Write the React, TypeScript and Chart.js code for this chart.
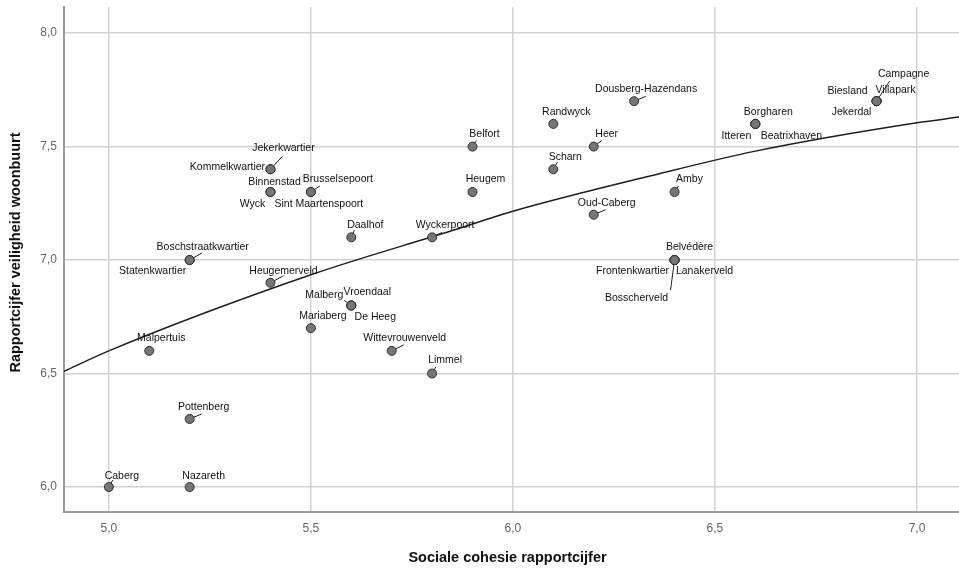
import { useEffect, useRef } from "react";
import { Chart, registerables } from "chart.js";

Chart.register(...registerables);

const neighbourhoods = [
  "Caberg", "Nazareth", "Pottenberg", "Malpertuis", "Boschstraatkwartier", "Statenkwartier",
  "Heugemerveld", "Jekerkwartier", "Kommelkwartier", "Binnenstad", "Wyck", "Brusselsepoort",
  "Sint Maartenspoort", "Daalhof", "Mariaberg", "Malberg", "Vroendaal", "De Heeg",
  "Wittevrouwenveld", "Limmel", "Wyckerpoort", "Belfort", "Heugem", "Randwyck", "Scharn",
  "Heer", "Dousberg-Hazendans", "Oud-Caberg", "Amby", "Belvédère", "Frontenkwartier",
  "Lanakerveld", "Bosscherveld", "Borgharen", "Itteren", "Beatrixhaven", "Campagne",
  "Biesland", "Villapark", "Jekerdal",
];
const cohesion = [
  5.0, 5.2, 5.2, 5.1, 5.2, 5.2,
  5.4, 5.4, 5.4, 5.4, 5.4, 5.5,
  5.5, 5.6, 5.5, 5.6, 5.6, 5.6,
  5.7, 5.8, 5.8, 5.9, 5.9, 6.1, 6.1,
  6.2, 6.3, 6.2, 6.4, 6.4, 6.4,
  6.4, 6.4, 6.6, 6.6, 6.6, 6.9,
  6.9, 6.9, 6.9,
];
const safety = [
  6.0, 6.0, 6.3, 6.6, 7.0, 7.0,
  6.9, 7.4, 7.4, 7.3, 7.3, 7.3,
  7.3, 7.1, 6.7, 6.8, 6.8, 6.8,
  6.6, 6.5, 7.1, 7.5, 7.3, 7.6, 7.4,
  7.5, 7.7, 7.2, 7.3, 7.0, 7.0,
  7.0, 7.0, 7.6, 7.6, 7.6, 7.7,
  7.7, 7.7, 7.7,
];

// fit line
const fitX = [4.889, 5.0, 5.5, 5.85, 6.0, 6.35, 6.6, 7.0, 7.104];
const fitY = [6.51, 6.6, 6.935, 7.13, 7.215, 7.375, 7.48, 7.605, 7.63];

const xTicks = [5.0, 5.5, 6.0, 6.5, 7.0];
const yTicks = [6.0, 6.5, 7.0, 7.5, 8.0];
const xTitle = "Sociale cohesie rapportcijfer";
const yTitle = "Rapportcijfer veiligheid woonbuurt";

// label placement (pixels): [label dx, label dy, leader end dx, leader end dy]
const labelPlacement: Record<string, number[]> = {
  "Caberg": [13, -11, 4, -7],
  "Nazareth": [14, -11],
  "Pottenberg": [14, -12, 12, -5],
  "Malpertuis": [12, -13],
  "Boschstraatkwartier": [13, -13, 12, -7],
  "Statenkwartier": [-37, 11],
  "Heugemerveld": [13, -12, 13, -7],
  "Jekerkwartier": [13, -21, 12, -13],
  "Kommelkwartier": [-43, -2],
  "Binnenstad": [4, -10],
  "Wyck": [-18, 12],
  "Brusselsepoort": [27, -13, 9, -6],
  "Sint Maartenspoort": [8, 12],
  "Daalhof": [14, -12, 3, -7],
  "Mariaberg": [12, -12],
  "Malberg": [-27, -10, -7, -5],
  "Vroendaal": [16, -13],
  "De Heeg": [24, 12],
  "Wittevrouwenveld": [13, -13, 12, -6],
  "Limmel": [13, -13, 4, -7],
  "Wyckerpoort": [13, -12, 10, -5],
  "Belfort": [12, -12, 4, -6],
  "Heugem": [13, -13],
  "Randwyck": [13, -12],
  "Scharn": [12, -12, 4, -7],
  "Heer": [13, -12, 8, -6],
  "Dousberg-Hazendans": [12, -12, 12, -5],
  "Oud-Caberg": [13, -12, 12, -5],
  "Amby": [15, -13, 4, -6],
  "Belvédère": [15, -13],
  "Frontenkwartier": [-42, 11],
  "Lanakerveld": [30, 11],
  "Bosscherveld": [-38, 38, -4, 30],
  "Borgharen": [13, -12],
  "Itteren": [-19, 12],
  "Beatrixhaven": [36, 12],
  "Campagne": [27, -27, 13, -20],
  "Biesland": [-29, -10],
  "Villapark": [19, -11],
  "Jekerdal": [-25, 11],
};

const fmt = (v: number) => v.toFixed(1).replace(".", ",");

const labelPlugin = {
  id: "pointLabels",
  beforeDatasetsDraw(chart: any) {
    const ctx = chart.ctx;
    const meta = chart.getDatasetMeta(0);
    ctx.save();
    ctx.strokeStyle = "#222";
    ctx.lineWidth = 1;
    meta.data.forEach((el: any, i: number) => {
      const p = labelPlacement[neighbourhoods[i]];
      if (p && p.length === 4) {
        ctx.beginPath();
        ctx.moveTo(el.x, el.y);
        ctx.lineTo(el.x + p[2], el.y + p[3]);
        ctx.stroke();
      }
    });
    ctx.restore();
  },
  afterDatasetsDraw(chart: any) {
    const ctx = chart.ctx;
    const meta = chart.getDatasetMeta(0);
    ctx.save();
    ctx.font = "10.5px 'Liberation Sans', Arial, sans-serif";
    ctx.fillStyle = "#111";
    ctx.textAlign = "center";
    ctx.textBaseline = "middle";
    meta.data.forEach((el: any, i: number) => {
      const p = labelPlacement[neighbourhoods[i]] || [0, -12];
      ctx.fillText(neighbourhoods[i], el.x + p[0], el.y + p[1]);
    });
    ctx.restore();
  },
  afterDraw(chart: any) {
    const ctx = chart.ctx;
    const a = chart.chartArea;
    ctx.save();
    ctx.fillStyle = "#111";
    ctx.font = "bold 14.5px 'Liberation Sans', Arial, sans-serif";
    ctx.textAlign = "center";
    ctx.textBaseline = "middle";
    ctx.fillText(xTitle, (a.left + a.right) / 2 - 4, 558);
    ctx.translate(16, (a.top + a.bottom) / 2 - 7);
    ctx.rotate(-Math.PI / 2);
    ctx.fillText(yTitle, 0, 0);
    ctx.restore();
  },
};

export default function App() {
  const ref = useRef<HTMLCanvasElement | null>(null);
  useEffect(() => {
    if (!ref.current) return;
    const chart = new Chart(ref.current, {
      type: "scatter",
      data: {
        datasets: [
          {
            data: cohesion.map((x, i) => ({ x, y: safety[i] })),
            pointRadius: 4.5,
            pointBackgroundColor: "#767676",
            pointBorderColor: "#2e2e2e",
            pointBorderWidth: 1,
            showLine: false,
          },
          {
            data: fitX.map((x, i) => ({ x, y: fitY[i] })),
            showLine: true,
            pointRadius: 0,
            borderColor: "#1e1e1e",
            borderWidth: 1.5,
            cubicInterpolationMode: "monotone",
            fill: false,
          } as any,
        ],
      },
      options: {
        responsive: false,
        animation: false,
        devicePixelRatio: 1,
        layout: { autoPadding: false, padding: { top: 7, right: 0, left: 0, bottom: 0 } },
        plugins: { legend: { display: false }, tooltip: { enabled: false } },
        scales: {
          x: {
            type: "linear",
            min: 4.889,
            max: 7.104,
            afterBuildTicks: (s: any) => {
              s.ticks = xTicks.map((v) => ({ value: v }));
            },
            afterFit: (s: any) => {
              s.height = 56;
              s.paddingLeft = 0;
              s.paddingRight = 0;
              s.paddingTop = 0;
              s.paddingBottom = 0;
            },
            grid: { color: "#d2d2d2", lineWidth: 1.5, drawTicks: false },
            border: { color: "#9a9a9a", width: 2 },
            ticks: {
              padding: 9,
              color: "#666",
              font: { family: "'Liberation Sans', Arial, sans-serif", size: 12 },
              callback: (v: any) => fmt(Number(v)),
              maxRotation: 0,
            },
          },
          y: {
            type: "linear",
            min: 5.89,
            max: 8.115,
            afterBuildTicks: (s: any) => {
              s.ticks = yTicks.map((v) => ({ value: v }));
            },
            afterFit: (s: any) => {
              s.width = 64;
              s.paddingLeft = 0;
              s.paddingRight = 0;
              s.paddingTop = 0;
              s.paddingBottom = 0;
            },
            grid: { color: "#d2d2d2", lineWidth: 1.5, drawTicks: false },
            border: { color: "#9a9a9a", width: 2 },
            ticks: {
              padding: 7,
              color: "#666",
              font: { family: "'Liberation Sans', Arial, sans-serif", size: 12 },
              callback: (v: any) => fmt(Number(v)),
            },
          },
        },
      },
      plugins: [labelPlugin],
    } as any);
    return () => chart.destroy();
  }, []);
  return (
    <div style={{ position: "fixed", left: 0, top: 0, width: 959, height: 568, background: "#fff" }}>
      <canvas ref={ref} width={959} height={568} />
    </div>
  );
}
